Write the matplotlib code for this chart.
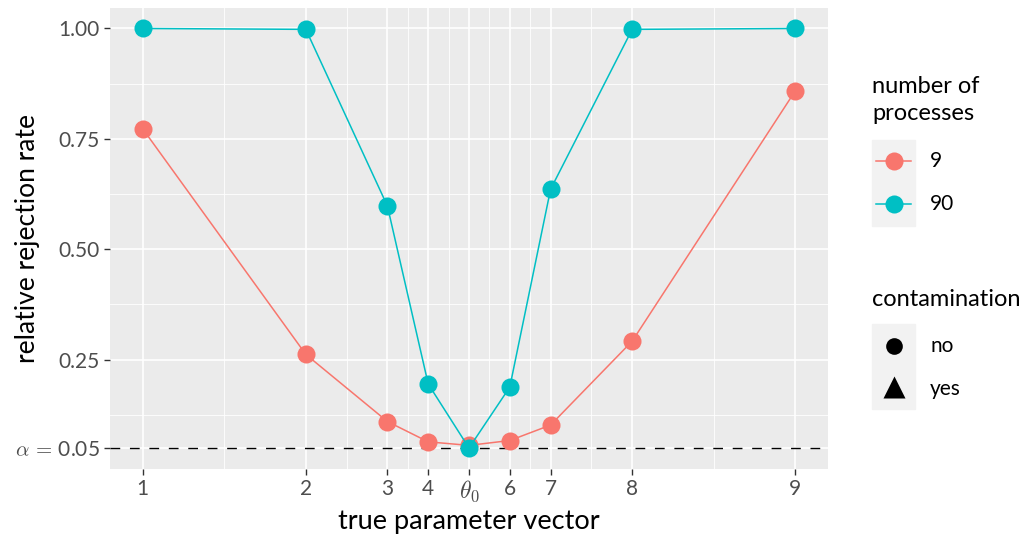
import matplotlib
matplotlib.use("Agg")
import matplotlib.pyplot as plt
from matplotlib.lines import Line2D
from matplotlib.patches import Rectangle

plt.rcParams["font.family"] = ["Lato", "DejaVu Sans"]
plt.rcParams["mathtext.fontset"] = "cm"

# positions of the parameter vectors on the x scale (theta_0 in the middle)
x_pos = [-8, -4, -2, -1, 0, 1, 2, 4, 8]
x_labels = ["1", "2", "3", "4", r"$\theta_0$", "6", "7", "8", "9"]
x_minor = [-6, -3, -1.5, -0.5, 0.5, 1.5, 3, 6]

rate_9 = [0.773, 0.262, 0.110, 0.064, 0.056, 0.067, 0.102, 0.292, 0.859]
rate_90 = [1.000, 0.998, 0.598, 0.195, 0.050, 0.188, 0.636, 0.998, 1.000]

y_breaks = [0.05, 0.25, 0.50, 0.75, 1.00]
y_labels = [r"$\alpha\,=\,$0.05", "0.25", "0.50", "0.75", "1.00"]
y_minor = [0.125, 0.375, 0.625, 0.875]
alpha = 0.05

COL_9 = "#F8766D"
COL_90 = "#00BFC4"
W, H = 1030, 535

fig = plt.figure(figsize=(W / 100, H / 100), dpi=100)
ax = fig.add_axes([110 / W, (H - 469) / H, (828 - 110) / W, (469 - 7.5) / H])
ax.set_facecolor("#EBEBEB")
for s in ax.spines.values():
    s.set_visible(False)

ax.set_xlim(-8.8, 8.8)
ax.set_ylim(0.0025, 1.0475)

# grid
for xm in x_minor:
    ax.axvline(xm, color="white", lw=0.6, zorder=0)
for ym in y_minor:
    ax.axhline(ym, color="white", lw=0.6, zorder=0)
for xb in x_pos:
    ax.axvline(xb, color="white", lw=1.2, zorder=0)
for yb in y_breaks:
    ax.axhline(yb, color="white", lw=1.2, zorder=0)

ax.axhline(alpha, color="black", lw=1.0, dashes=(7, 7), zorder=1)

ax.plot(x_pos, rate_9, color=COL_9, lw=1.1, marker="o", ms=13, mec="none", zorder=3)
ax.plot(x_pos, rate_90, color=COL_90, lw=1.1, marker="o", ms=13, mec="none", zorder=4)

ax.set_xticks(x_pos)
ax.set_xticklabels(x_labels)
ax.set_yticks(y_breaks)
ax.set_yticklabels(y_labels)
ax.tick_params(axis="both", length=4.3, width=1, color="#333333",
               labelcolor="#4D4D4D", labelsize=15, pad=3)
ax.get_xticklabels()[4].set_fontsize(17)
ax.set_xlabel("true parameter vector", fontsize=19.5, color="black", labelpad=3)
ax.set_ylabel("relative rejection rate", fontsize=19, color="black")
ax.yaxis.set_label_coords((40 - 110) / 718, 0.5)

# legends (drawn by hand in figure pixels, ggplot style)
def fx(px):
    return px / W

def fy(py):
    return (H - py) / H

fs_title = 17
fs_lab = 15
fig.text(fx(872), fy(100), "number of\nprocesses", fontsize=fs_title,
         va="center", ha="left", linespacing=1.35)
fig.add_artist(Rectangle((fx(872), fy(226)), fx(915) - fx(872), fy(140) - fy(226),
                         transform=fig.transFigure, color="#F2F2F2", zorder=0))
for ky, col, lab in [(161, COL_9, "9"), (204, COL_90, "90")]:
    fig.add_artist(Line2D([fx(876), fx(911)], [fy(ky), fy(ky)], color=col, lw=1.1,
                          transform=fig.transFigure))
    fig.add_artist(Line2D([fx(893.5)], [fy(ky)], color=col, marker="o", ms=13, mec="none",
                          transform=fig.transFigure))
    fig.text(fx(930), fy(ky), lab, fontsize=fs_lab, va="center", ha="left")

fig.text(fx(872), fy(300), "contamination", fontsize=fs_title, va="center", ha="left")
fig.add_artist(Rectangle((fx(872), fy(409)), fx(915) - fx(872), fy(324) - fy(409),
                         transform=fig.transFigure, color="#F2F2F2", zorder=0))
for ky, mk, ms, lab in [(346, "o", 12, "no"), (387, "^", 16, "yes")]:
    fig.add_artist(Line2D([fx(893.5)], [fy(ky)], color="black", marker=mk, ms=ms,
                          mec="none", transform=fig.transFigure))
    fig.text(fx(930), fy(389 if lab == "yes" else ky), lab, fontsize=fs_lab,
             va="center", ha="left")

fig.savefig("out.png", dpi=100)
